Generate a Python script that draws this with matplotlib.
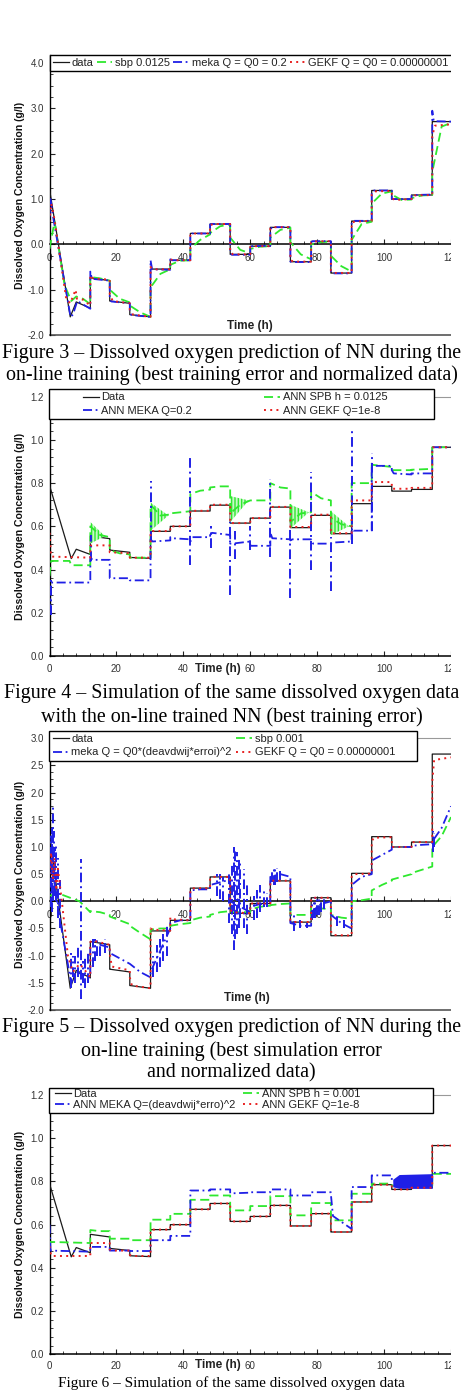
import matplotlib
matplotlib.use('Agg')
import matplotlib.pyplot as plt
from matplotlib.patches import Rectangle, Polygon
from matplotlib.ticker import MultipleLocator, FormatStrFormatter

W, H = 463, 1391
plt.rcParams['font.family'] = ['Liberation Sans', 'DejaVu Sans']

# segment boundaries (h) of the dissolved oxygen set-point steps
EDGES = [12.2, 18.0, 24.0, 30.2, 36.1, 42.1, 48.0, 54.0, 60.0, 66.0, 72.0,
         78.2, 84.1, 90.3, 96.3, 102.3, 108.2, 114.4, 120.0]

# ---- normalized data (fig 3 / fig 5)
DATA_N_HEAD_T = [0, 6.2, 8.0, 12.2]
DATA_N_HEAD_Y = [1.22, -1.60, -1.27, -1.41]
DATA_N_START = [-0.74, -1.25, -1.55, -0.545, -0.35, 0.243, 0.449, -0.22, -0.04,
                0.376, -0.383, 0.066, -0.633, 0.515, 1.19, 1.0, 1.09, 2.71]
DATA_N_END = [-0.80, -1.30, -1.60, -0.545, -0.35, 0.243, 0.449, -0.22, -0.04,
              0.376, -0.383, 0.066, -0.633, 0.515, 1.19, 1.0, 1.09, 2.71]

# ---- raw data (fig 4 / fig 6)
DATA_R_HEAD_T = [0, 6.5, 8.0, 12.2]
DATA_R_HEAD_Y = [0.79, 0.451, 0.494, 0.47]
DATA_R_START = [0.555, 0.490, 0.456, 0.577, 0.600, 0.671, 0.698, 0.615, 0.638,
                0.689, 0.594, 0.651, 0.566, 0.705, 0.785, 0.763, 0.771, 0.966]
DATA_R_END = [0.543, 0.480, 0.452, 0.577, 0.600, 0.671, 0.698, 0.615, 0.638,
              0.689, 0.594, 0.651, 0.566, 0.705, 0.785, 0.763, 0.771, 0.966]

# ---- figure 3 : per segment (value at step, value inside, value at end)
SBP1_HEAD_T = [0, 1.5, 4.5, 6.5, 8.0, 10.0, 12.2]
SBP1_HEAD_Y = [-0.1, 0.5, -0.9, -1.25, -1.15, -1.2, -1.32]
SBP1 = [[-0.72, -0.75, -0.80], [-1.00, -1.20, -1.28], [-1.35, -1.50, -1.60],
        [-0.95, -0.65, -0.55], [-0.45, -0.36, -0.35], [-0.10, 0.10, 0.22],
        [0.25, 0.40, 0.44], [0.15, -0.12, -0.20], [-0.10, -0.05, -0.04],
        [0.15, 0.32, 0.37], [0.05, -0.22, -0.33], [0.00, 0.05, 0.06],
        [-0.25, -0.48, -0.60], [0.10, 0.45, 0.50], [0.90, 1.12, 1.17],
        [1.10, 0.98, 0.99], [1.02, 1.08, 1.09], [1.60, 2.60, 2.68]]
MEKA1_HEAD_T = [0, 0.3, 1.2, 6.3, 7.0, 8.3, 12.2]
MEKA1_HEAD_Y = [0.6, 1.0, 0.55, -1.6, -1.55, -1.25, -1.42]
MEKA1 = [[-0.60, -0.76, -0.80], [-1.20, -1.26, -1.30], [-1.50, -1.56, -1.60],
         [-0.35, -0.55, -0.56], [-0.33, -0.35, -0.35], [0.20, 0.24, 0.24],
         [0.44, 0.45, 0.45], [-0.20, -0.23, -0.23], [-0.02, -0.04, -0.03],
         [0.32, 0.38, 0.38], [-0.38, -0.39, -0.39], [0.05, 0.07, 0.07],
         [-0.62, -0.64, -0.64], [0.49, 0.52, 0.52], [1.15, 1.19, 1.19],
         [1.00, 1.00, 1.00], [1.07, 1.09, 1.10], [2.95, 2.72, 2.71]]
GEKF1_HEAD_T = [0, 0.5, 1.5, 5.0, 6.2, 7.8, 8.2, 10.0, 12.2]
GEKF1_HEAD_Y = [0.5, 0.9, 0.55, -1.2, -1.3, -1.0, -1.2, -1.22, -1.35]
GEKF1 = [[-0.68, -0.75, -0.78], [-1.10, -1.25, -1.30], [-1.45, -1.55, -1.60],
         [-0.50, -0.55, -0.55], [-0.33, -0.35, -0.35], [0.22, 0.24, 0.24],
         [0.42, 0.45, 0.45], [-0.18, -0.22, -0.22], [-0.06, -0.04, -0.04],
         [0.35, 0.38, 0.38], [-0.35, -0.38, -0.38], [0.04, 0.066, 0.07],
         [-0.58, -0.63, -0.63], [0.48, 0.50, 0.52], [1.10, 1.17, 1.18],
         [1.02, 0.98, 1.00], [1.05, 1.08, 1.09], [2.40, 2.62, 2.65]]

# ---- figure 4
SPB2_HEAD_T = [0, 0.5, 6.0, 6.5, 12.2]
SPB2_HEAD_Y = [0.37, 0.44, 0.44, 0.42, 0.42]
SPB2 = [[0.60, 0.56, 0.55], [0.49, 0.475, 0.47], [0.455, 0.455, 0.455],
        [0.70, 0.65, 0.655], [0.66, 0.665, 0.67], [0.75, 0.765, 0.77],
        [0.78, 0.785, 0.785], [0.66, 0.70, 0.72], [0.72, 0.72, 0.72],
        [0.80, 0.78, 0.775], [0.62, 0.66, 0.665], [0.76, 0.73, 0.72],
        [0.64, 0.61, 0.60], [0.80, 0.80, 0.80], [0.885, 0.88, 0.875],
        [0.86, 0.86, 0.86], [0.862, 0.864, 0.866], [0.966, 0.966, 0.966]]
SPB2_OSC_T0 = [12.2, 30.2, 54.0, 72.0, 84.1]
SPB2_OSC_T1 = [16.5, 35.5, 59.5, 77.5, 89.5]
SPB2_OSC_HI = [0.62, 0.71, 0.74, 0.70, 0.67]
SPB2_OSC_LO = [0.52, 0.58, 0.62, 0.59, 0.56]
SPB2_OSC_END = [0.555, 0.65, 0.72, 0.665, 0.60]
MEKA2_HEAD_T = [0, 0.4, 12.2]
MEKA2_HEAD_Y = [0.2, 0.34, 0.34]
MEKA2 = [[0.46, 0.445, 0.445], [0.36, 0.36, 0.36], [0.35, 0.35, 0.35],
         [0.54, 0.53, 0.535], [0.55, 0.545, 0.54], [0.53, 0.55, 0.55],
         [0.56, 0.57, 0.56], [0.52, 0.52, 0.53], [0.51, 0.51, 0.51],
         [0.57, 0.545, 0.54], [0.535, 0.54, 0.54], [0.53, 0.52, 0.52],
         [0.52, 0.525, 0.53], [0.60, 0.58, 0.58], [0.89, 0.88, 0.88],
         [0.86, 0.845, 0.84], [0.845, 0.845, 0.845], [0.966, 0.966, 0.966]]
MEKA2_SPIKE_T = [0.3, 12.3, 30.3, 42.1, 48.2, 54.0, 55.5, 60.0, 66.0, 72.0, 78.2, 84.1, 90.3, 96.3]
MEKA2_SPIKE_LO = [0.19, 0.44, 0.53, 0.42, 0.50, 0.28, 0.45, 0.49, 0.46, 0.27, 0.40, 0.30, 0.52, 0.58]
MEKA2_SPIKE_HI = [0.35, 0.56, 0.81, 0.92, 0.60, 0.62, 0.58, 0.60, 0.82, 0.60, 0.85, 0.55, 1.04, 0.94]
GEKF2_HEAD_T = [0, 0.5, 12.2]
GEKF2_HEAD_Y = [0.57, 0.46, 0.455]
GEKF2 = [[0.51, 0.512, 0.512], [0.48, 0.48, 0.475], [0.455, 0.455, 0.455],
         [0.575, 0.578, 0.578], [0.60, 0.60, 0.60], [0.672, 0.672, 0.672],
         [0.70, 0.70, 0.70], [0.615, 0.615, 0.615], [0.638, 0.638, 0.638],
         [0.69, 0.69, 0.69], [0.597, 0.597, 0.597], [0.654, 0.654, 0.654],
         [0.568, 0.568, 0.568], [0.72, 0.72, 0.72], [0.805, 0.805, 0.805],
         [0.774, 0.774, 0.774], [0.778, 0.778, 0.778], [0.966, 0.966, 0.966]]

# ---- figure 5
SBP3_HEAD_T = [0, 2.5, 9.0, 12.2]
SBP3_HEAD_Y = [0.1, 0.15, 0.0, -0.2]
SBP3 = [[-0.18, -0.20, -0.25], [-0.28, -0.35, -0.42], [-0.45, -0.58, -0.70],
        [-0.52, -0.50, -0.50], [-0.45, -0.42, -0.40], [-0.35, -0.30, -0.28],
        [-0.25, -0.20, -0.18], [-0.20, -0.20, -0.20], [-0.15, -0.10, -0.08],
        [-0.07, -0.05, -0.04], [-0.25, -0.25, -0.25], [-0.12, -0.13, -0.15],
        [-0.25, -0.30, -0.32], [0.00, 0.02, 0.05], [0.20, 0.30, 0.38],
        [0.40, 0.45, 0.50], [0.52, 0.58, 0.64], [1.00, 1.20, 1.55]]
MEKA3_HEAD_T = [0, 0.5, 1.5, 3.0, 6.5, 8.0, 12.2]
MEKA3_HEAD_Y = [0.5, 1.2, 0.3, -0.3, -1.5, -1.3, -1.4]
MEKA3 = [[-0.85, -0.80, -0.85], [-0.95, -1.05, -1.15], [-1.15, -1.30, -1.40],
         [-1.30, -0.90, -0.50], [-0.40, -0.35, -0.35], [0.20, 0.22, 0.22],
         [0.30, 0.35, 0.40], [0.00, -0.10, -0.20], [-0.10, -0.05, -0.05],
         [0.45, 0.50, 0.45], [-0.40, -0.45, -0.45], [-0.20, -0.05, 0.00],
         [-0.25, -0.40, -0.50], [0.30, 0.45, 0.50], [0.75, 0.85, 0.95],
         [1.00, 1.00, 1.00], [1.02, 1.04, 1.05], [1.10, 1.35, 1.75]]
MEKA3_SPIKE_T = [0.3, 0.6, 1.0, 1.3, 1.7, 2.0, 2.5, 3.0, 6.5, 7.0, 7.5, 8.5, 9.5, 10.0, 10.5, 11.5,
                 13.0, 13.5, 14.2, 15.0, 16.5, 31.0, 32.0, 33.0, 34.0, 35.0,
                 50.0, 51.0, 52.0, 53.5, 54.5, 55.0, 55.5, 56.0, 56.5, 57.0, 58.0, 59.0,
                 61.0, 62.0, 63.0, 64.0, 65.0, 66.5, 67.0, 67.5, 68.0, 69.0, 73.0, 75.0, 77.0,
                 78.5, 79.0, 79.5, 80.0, 80.5, 81.0, 82.0, 86.0, 88.0, 114.5, 115.0]
MEKA3_SPIKE_LO = [-0.1, -0.2, 0.0, 0.1, 0.2, 0.0, -0.3, -0.5, -1.6, -1.4, -1.5, -1.4, -1.8, -1.5, -1.6, -1.5,
                  -1.2, -1.1, -1.0, -1.0, -0.95, -1.4, -1.3, -1.2, -1.1, -1.0,
                  0.1, 0.05, 0.0, -0.4, -0.6, -0.9, -0.7, -0.6, -0.5, -0.3, -0.5, -0.6,
                  -0.35, -0.3, -0.2, -0.1, -0.1, 0.35, 0.3, 0.3, 0.35, 0.4, -0.55, -0.5, -0.5,
                  -0.35, -0.3, -0.3, -0.25, -0.25, -0.2, -0.15, -0.45, -0.5, 0.9, 1.0]
MEKA3_SPIKE_HI = [1.0, 1.35, 1.75, 1.3, 1.0, 1.05, 0.8, 0.4, -0.9, -1.0, -1.0, -0.8, 0.78, -1.1, -1.0, -0.9,
                  -0.7, -0.7, -0.7, -0.75, -0.7, -1.0, -0.8, -0.7, -0.6, -0.45,
                  0.5, 0.5, 0.45, 0.5, 0.7, 1.0, 0.95, 0.9, 0.8, 0.75, 0.6, 0.3,
                  0.1, 0.2, 0.3, 0.2, 0.15, 0.6, 0.65, 0.6, 0.62, 0.55, -0.25, -0.35, -0.4,
                  0.0, 0.05, 0.08, 0.08, 0.06, 0.06, 0.05, -0.25, -0.35, 1.3, 1.25]
GEKF3_HEAD_T = [0, 0.5, 1.0, 1.5, 2.0, 2.5, 3.5, 5.5, 7.0, 9.0, 11.0, 12.2]
GEKF3_HEAD_Y = [0.5, 0.9, 0.4, 0.8, 0.2, 0.6, 0.1, -1.0, -1.3, -1.15, -1.3, -1.4]
GEKF3 = [[-0.75, -0.72, -0.80], [-0.95, -1.20, -1.27], [-1.40, -1.55, -1.60],
         [-0.50, -0.52, -0.54], [-0.30, -0.33, -0.35], [0.20, 0.24, 0.24],
         [0.42, 0.45, 0.45], [-0.15, -0.20, -0.22], [-0.05, -0.04, -0.04],
         [0.37, 0.38, 0.38], [-0.35, -0.38, -0.38], [0.05, 0.066, 0.066],
         [-0.55, -0.62, -0.63], [0.45, 0.50, 0.51], [1.10, 1.17, 1.18],
         [1.00, 1.00, 1.00], [1.08, 1.09, 1.09], [2.20, 2.60, 2.65]]

# ---- figure 6
SPB4_HEAD_T = [0, 0.3, 12.2]
SPB4_HEAD_Y = [0.50, 0.52, 0.515]
SPB4 = [[0.575, 0.57, 0.57], [0.535, 0.535, 0.535], [0.528, 0.528, 0.528],
        [0.623, 0.623, 0.623], [0.65, 0.65, 0.65], [0.715, 0.715, 0.715],
        [0.735, 0.735, 0.735], [0.666, 0.666, 0.666], [0.686, 0.686, 0.686],
        [0.732, 0.732, 0.732], [0.643, 0.643, 0.643], [0.70, 0.70, 0.70],
        [0.62, 0.62, 0.62], [0.743, 0.743, 0.743], [0.79, 0.79, 0.79],
        [0.78, 0.78, 0.78], [0.78, 0.78, 0.78], [0.835, 0.835, 0.835]]
MEKA4_HEAD_T = [0, 0.3, 12.2]
MEKA4_HEAD_Y = [0.60, 0.48, 0.475]
MEKA4 = [[0.497, 0.497, 0.497], [0.48, 0.48, 0.48], [0.478, 0.478, 0.478],
         [0.528, 0.528, 0.528], [0.548, 0.548, 0.548], [0.758, 0.758, 0.758],
         [0.763, 0.763, 0.763], [0.745, 0.745, 0.748], [0.75, 0.75, 0.75],
         [0.763, 0.763, 0.763], [0.735, 0.735, 0.735], [0.75, 0.75, 0.75],
         [0.74, 0.64, 0.58], [0.774, 0.774, 0.774], [0.828, 0.828, 0.828],
         [0.80, 0.80, 0.80], [0.80, 0.80, 0.80], [0.84, 0.84, 0.84]]
MEKA4_BAND_T = [102.6, 104.5, 114.4]
MEKA4_BAND_LO = [0.775, 0.768, 0.768]
MEKA4_BAND_HI = [0.81, 0.832, 0.836]
GEKF4_HEAD_T = [0, 0.5, 12.2]
GEKF4_HEAD_Y = [0.50, 0.455, 0.455]
GEKF4 = [[0.515, 0.515, 0.515], [0.485, 0.48, 0.48], [0.46, 0.455, 0.455],
         [0.575, 0.577, 0.577], [0.60, 0.60, 0.60], [0.671, 0.671, 0.671],
         [0.698, 0.698, 0.698], [0.615, 0.615, 0.615], [0.638, 0.638, 0.638],
         [0.689, 0.689, 0.689], [0.594, 0.594, 0.594], [0.651, 0.651, 0.651],
         [0.566, 0.566, 0.566], [0.705, 0.705, 0.705], [0.785, 0.785, 0.785],
         [0.763, 0.763, 0.763], [0.771, 0.771, 0.771], [0.966, 0.966, 0.966]]

YLABEL = 'Dissolved Oxygen Concentration (g/l)'
GREEN, BLUE, RED, BLACK = '#2ee82e', '#1f1fe6', '#e82020', '#1a1a1a'
STY = {
    'data': dict(color=BLACK, lw=0.9, ls='-'),
    'sbp': dict(color=GREEN, lw=1.3, ls=(0, (5, 2.5))),
    'meka': dict(color=BLUE, lw=1.3, ls=(0, (5, 2, 1, 2))),
    'gekf': dict(color=RED, lw=1.4, ls=(0, (1, 2.2))),
}


def series(head_t, head_y, segs, frac):
    xs, ys = list(head_t), list(head_y)
    for i, (a, b, c) in enumerate(segs):
        t0, t1 = EDGES[i], EDGES[i + 1]
        xs += [t0, t0 + frac * (t1 - t0), t1]
        ys += [a, b, c]
    return xs, ys


def data_segs(start, end):
    return [(s, s, e) for s, e in zip(start, end)]


fig = plt.figure(figsize=(W / 100, H / 100), dpi=100)


def fx(x):
    return x / W


def fy(y):
    return 1 - y / H


def panel(top, bottom, ylim, ymaj, ymin, zero_axis, xpad=6):
    l, r = 49.5, 451
    ax = fig.add_axes([fx(l), fy(bottom), (r - l) / W, (bottom - top) / H])
    ax.set_xlim(0, 120)
    ax.set_ylim(*ylim)
    ax.xaxis.set_major_locator(MultipleLocator(20))
    ax.xaxis.set_minor_locator(MultipleLocator(4))
    ax.yaxis.set_major_locator(MultipleLocator(ymaj))
    ax.yaxis.set_minor_locator(MultipleLocator(ymin))
    ax.yaxis.set_major_formatter(FormatStrFormatter('%.1f'))
    ax.tick_params(which='both', direction='in', labelsize=7, labelcolor='#333', color='#222')
    ax.tick_params(which='major', length=3.5)
    ax.tick_params(which='minor', length=2)
    ax.tick_params(axis='x', pad=xpad)
    ax.tick_params(axis='y', pad=4)
    ax.spines['right'].set_visible(False)
    ax.spines['top'].set_color('#999')
    ax.spines['left'].set_linewidth(1.0)
    ax.spines['bottom'].set_linewidth(1.1)
    if zero_axis:
        ax.spines['bottom'].set_position(('data', 0))
        ax.axhline(ylim[0], color='#555', lw=1.2, clip_on=False)
    ax.set_ylabel(YLABEL, fontsize=7.6, fontweight='bold', color='#111')
    ax.yaxis.set_label_coords(-0.062, 0.5)
    return ax


def draw(ax, d, sbp, meka, gekf, order):
    h = {}
    h['data'], = ax.plot(*d, **STY['data'], zorder=3)
    h['sbp'], = ax.plot(*sbp, **STY['sbp'], zorder=4)
    h['meka'], = ax.plot(*meka, **STY['meka'], zorder=5)
    h['gekf'], = ax.plot(*gekf, **STY['gekf'], zorder=6)
    return [h[k] for k in order]


def legend_box(x0, y0, x1, y1):
    fig.patches.append(Rectangle((fx(x0), fy(y1)), (x1 - x0) / W, (y1 - y0) / H,
                                 transform=fig.transFigure, facecolor='white',
                                 edgecolor='black', lw=1.0, zorder=1))


def legend(handles, labels, x, y, ncol, colsp, labsp):
    fig.legend(handles, labels, loc='upper left', bbox_to_anchor=(fx(x), fy(y)),
               bbox_transform=fig.transFigure, ncol=ncol, frameon=False,
               fontsize=8, labelcolor='#222', handlelength=1.4, handletextpad=0.25,
               columnspacing=colsp, labelspacing=labsp, borderpad=0, borderaxespad=0)


def clip_right(y0, y1):
    fig.patches.append(Rectangle((fx(450.5), fy(y1)), (W - 450.5) / W, (y1 - y0) / H,
                                 transform=fig.transFigure, facecolor='white',
                                 edgecolor='none', zorder=2))


def caption(lines, ys, size=14.4, va='center'):
    for txt, y in zip(lines, ys):
        fig.text(0.5, fy(y), txt, ha='center', va=va, fontsize=size,
                 family='Liberation Serif', color='black')


dn = series(DATA_N_HEAD_T, DATA_N_HEAD_Y, data_segs(DATA_N_START, DATA_N_END), 0.02)
dr = series(DATA_R_HEAD_T, DATA_R_HEAD_Y, data_segs(DATA_R_START, DATA_R_END), 0.02)

# ---------------- Figure 3
ax1 = panel(55, 335, (-2, 4.18), 1.0, 0.25, True)
hs = draw(ax1, dn,
          series(SBP1_HEAD_T, SBP1_HEAD_Y, SBP1, 0.5),
          series(MEKA1_HEAD_T, MEKA1_HEAD_Y, MEKA1, 0.08),
          series(GEKF1_HEAD_T, GEKF1_HEAD_Y, GEKF1, 0.15),
          ['data', 'sbp', 'meka', 'gekf'])
ax1.text(60, -1.80, 'Time (h)', ha='center', va='center', fontsize=8.5, fontweight='bold', color='#222')
legend_box(50, 55, 452, 71)
legend(hs, ['data', 'sbp 0.0125', 'meka Q = Q0 = 0.2', 'GEKF Q = Q0 = 0.00000001'],
       53, 57.5, 4, 0.3, 0.3)
clip_right(45, 340)
caption(['Figure 3 \u2013 Dissolved oxygen prediction of NN during the',
         'on-line training (best training error and normalized data)'], [353, 375])

# ---------------- Figure 4
ax2 = panel(396.7, 656, (0, 1.2), 0.2, 0.04, False)
for t0, t1, hi, lo, end in zip(SPB2_OSC_T0, SPB2_OSC_T1, SPB2_OSC_HI, SPB2_OSC_LO, SPB2_OSC_END):
    ax2.add_patch(Polygon([(t0, hi), (t1, end), (t0, lo)], closed=True, facecolor='#c8f7c8',
                          edgecolor=GREEN, hatch='|||||', lw=0, zorder=3.5))
ax2.vlines(MEKA2_SPIKE_T, MEKA2_SPIKE_LO, MEKA2_SPIKE_HI, colors=BLUE, lw=1.4,
           linestyles=(0, (5, 2, 1, 2)), zorder=5)
hs = draw(ax2, dr,
          series(SPB2_HEAD_T, SPB2_HEAD_Y, SPB2, 0.5),
          series(MEKA2_HEAD_T, MEKA2_HEAD_Y, MEKA2, 0.1),
          series(GEKF2_HEAD_T, GEKF2_HEAD_Y, GEKF2, 0.1),
          ['data', 'meka', 'sbp', 'gekf'])
ax2.text(0.42, -0.05, 'Time (h)', transform=ax2.transAxes, ha='center', va='center',
         fontsize=8.5, fontweight='bold', color='#222')
legend_box(49, 389, 434, 419)
legend(hs, ['Data', 'ANN MEKA Q=0.2', 'ANN SPB h = 0.0125', 'ANN GEKF Q=1e-8'],
       83, 392.5, 2, 6.5, 0.3)
clip_right(385, 680)
caption(['Figure 4 \u2013 Simulation of the same dissolved oxygen data',
         'with the on-line trained NN (best training error)'], [693.5, 717])

# ---------------- Figure 5
ax3 = panel(738.3, 1010, (-2, 3), 0.5, 0.125, True)
ax3.vlines(MEKA3_SPIKE_T, MEKA3_SPIKE_LO, MEKA3_SPIKE_HI, colors=BLUE, lw=1.4,
           linestyles=(0, (5, 2, 1, 2)), zorder=5)
hs = draw(ax3, dn,
          series(SBP3_HEAD_T, SBP3_HEAD_Y, SBP3, 0.5),
          series(MEKA3_HEAD_T, MEKA3_HEAD_Y, MEKA3, 0.5),
          series(GEKF3_HEAD_T, GEKF3_HEAD_Y, GEKF3, 0.1),
          ['data', 'meka', 'sbp', 'gekf'])
ax3.text(59, -1.78, 'Time (h)', ha='center', va='center', fontsize=8.5, fontweight='bold', color='#222')
legend_box(49, 731, 417, 760.7)
legend(hs, ['data', 'meka Q = Q0*(deavdwij*erroi)^2', 'sbp 0.001', 'GEKF Q = Q0 = 0.00000001'],
       53, 733.5, 2, 0.4, 0.35)
clip_right(725, 1015)
caption(['Figure 5 \u2013 Dissolved oxygen prediction of NN during the',
         'on-line training (best simulation error',
         'and normalized data)'], [1027, 1051, 1073])

# ---------------- Figure 6
ax4 = panel(1095, 1354.3, (0, 1.2), 0.2, 0.04, False, xpad=4.5)
ax4.fill_between(MEKA4_BAND_T, MEKA4_BAND_LO, MEKA4_BAND_HI, color=BLUE, lw=0, zorder=5)
hs = draw(ax4, dr,
          series(SPB4_HEAD_T, SPB4_HEAD_Y, SPB4, 0.5),
          series(MEKA4_HEAD_T, MEKA4_HEAD_Y, MEKA4, 0.1),
          series(GEKF4_HEAD_T, GEKF4_HEAD_Y, GEKF4, 0.1),
          ['data', 'meka', 'sbp', 'gekf'])
ax4.text(0.42, -0.043, 'Time (h)', transform=ax4.transAxes, ha='center', va='center',
         fontsize=8.5, fontweight='bold', color='#222')
legend_box(49, 1087.7, 433, 1112.7)
legend(hs, ['Data', 'ANN MEKA Q=(deavdwij*erro)^2', 'ANN SPB h = 0.001', 'ANN GEKF Q=1e-8'],
       55, 1089, 2, 0.7, 0.12)
clip_right(1080, 1376)
# the source page cuts this caption; keep it whole just above the bottom edge
caption(['Figure 6 \u2013 Simulation of the same dissolved oxygen data'], [1387.3],
        size=11, va='baseline')

fig.savefig('out.png', dpi=100)
